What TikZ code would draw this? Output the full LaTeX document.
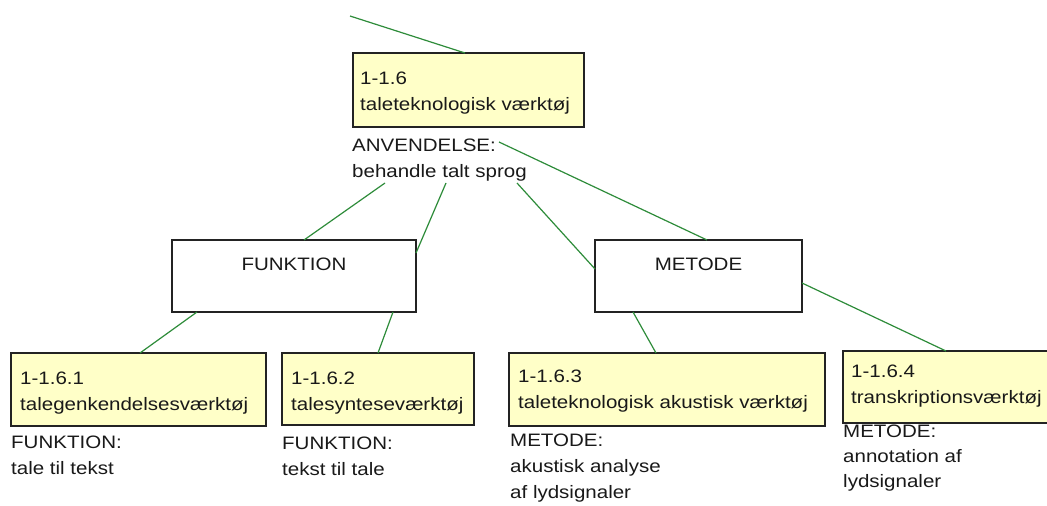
\documentclass[tikz,border=0pt]{standalone}
\usepackage{fontspec}
\setmainfont{Liberation Sans}[FakeStretch=1.14]
\definecolor{linkgreen}{RGB}{46,140,58}
\definecolor{notefill}{RGB}{255,255,200}
\definecolor{edge}{RGB}{35,35,35}
\definecolor{ink}{RGB}{25,25,25}
\tikzset{
  box/.style={draw=edge, line width=1.3pt, inner sep=0pt, outer sep=0pt, anchor=north west},
  notebox/.style={box, fill=notefill},
  plainbox/.style={box, fill=white},
  txt/.style={inner sep=0pt, anchor=base west, align=left, text=ink,
    font=\fontsize{18}{26}\selectfont},
  link/.style={draw=linkgreen, line width=1.2pt}
}
\begin{document}
\begin{tikzpicture}[x=1pt,y=-1pt]
\useasboundingbox[fill=white] (0,0) rectangle (1047,506);

% top tool node (text nodes are placed by the baseline of their last line)
\node[notebox, minimum width=231pt, minimum height=74pt] (T) at (353,53) {};
\node[txt] (Tt) at (360,110) {1-1.6\\taleteknologisk værktøj};
\node[txt] (Tl) at (352,177) {ANVENDELSE:\\behandle talt sprog};

% category boxes
\node[plainbox, minimum width=244pt, minimum height=72pt] (F) at (172,240) {};
\node[txt, anchor=base] (Ft) at (294,270) {FUNKTION};
\node[plainbox, minimum width=207pt, minimum height=72pt] (M) at (595,240) {};
\node[txt, anchor=base] (Mt) at (698.5,270) {METODE};

% leaf tools
\node[notebox, minimum width=255pt, minimum height=73pt] (C1) at (11,353) {};
\node[txt] (C1t) at (20,410) {1-1.6.1\\talegenkendelsesværktøj};
\node[txt] (C1l) at (11,474) {FUNKTION:\\tale til tekst};

\node[notebox, minimum width=192pt, minimum height=72pt] (C2) at (282,353) {};
\node[txt] (C2t) at (291,410) {1-1.6.2\\talesynteseværktøj};
\node[txt] (C2l) at (282,475) {FUNKTION:\\tekst til tale};

\node[notebox, minimum width=316pt, minimum height=73pt] (C3) at (509,353) {};
\node[txt] (C3t) at (518,408) {1-1.6.3\\taleteknologisk akustisk værktøj};
\node[txt] (C3l) at (510,498) {METODE:\\akustisk analyse\\af lydsignaler};

\node[notebox, minimum width=212pt, minimum height=72pt] (C4) at (843,351) {};
\node[txt] (C4t) at (851,403) {1-1.6.4\\transkriptionsværktøj};
\node[txt, font=\fontsize{18}{25}\selectfont] (C4l) at (843,487) {METODE:\\annotation af\\lydsignaler};

% connectors
\coordinate (up) at (350,16);
\draw[link] (up) -- ([shift={(112,0)}]T.north west);
\draw[link] ([shift={(146,15)}]T.south west) -- ([shift={(112,0)}]M.north west);
\draw[link] ([shift={(32,56)}]T.south west) -- ([shift={(132,0)}]F.north west);
\draw[link] ([shift={(93,56)}]T.south west) -- ([shift={(0,13)}]F.north east);
\draw[link] ([shift={(164,56)}]T.south west) -- ([shift={(0,29)}]M.north west);
\draw[link] ([shift={(25,0)}]F.south west) -- ([shift={(129,0)}]C1.north west);
\draw[link] ([shift={(221,0)}]F.south west) -- ([shift={(96,0)}]C2.north west);
\draw[link] ([shift={(38,0)}]M.south west) -- ([shift={(147,0)}]C3.north west);
\draw[link] ([shift={(0,43)}]M.north east) -- ([shift={(103,0)}]C4.north west);
\end{tikzpicture}
\end{document}
